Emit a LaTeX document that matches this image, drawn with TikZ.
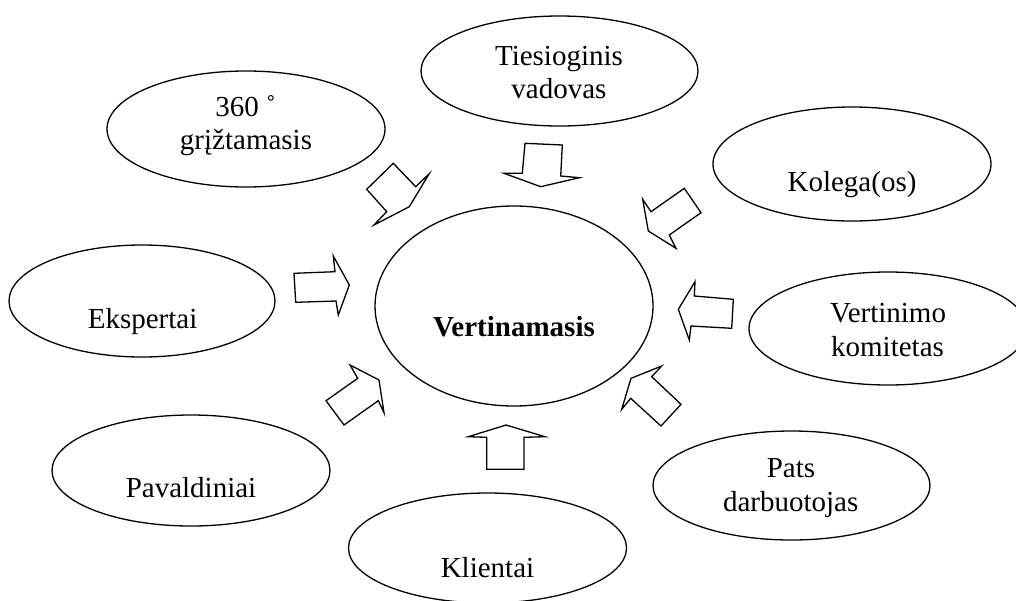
\documentclass[tikz,border=0pt]{standalone}
\usepackage{fontspec}
\setmainfont{Liberation Serif}
\usetikzlibrary{shapes.geometric}
\begin{document}
\begin{tikzpicture}[x=1pt,y=-1pt,
  oval/.style={ellipse,draw,line width=1.3pt,inner sep=0pt},
  txt/.style={anchor=base,inner sep=0pt,font=\fontsize{29}{33}\selectfont},
  blockarrow/.style={draw,fill=white,line width=1.3pt,line join=miter}]
\useasboundingbox (0,0) rectangle (1016,600);
% ellipses
\node[oval,minimum width=278pt,minimum height=200pt] (c) at (514,306) {};
\node[oval,minimum width=277pt,minimum height=110pt] (e1) at (559.5,71) {};
\node[oval,minimum width=278pt,minimum height=116pt] (e2) at (246,129) {};
\node[oval,minimum width=278pt,minimum height=114pt] (e3) at (852,164) {};
\node[oval,minimum width=266pt,minimum height=112pt] (e4) at (142,301) {};
\node[oval,minimum width=278pt,minimum height=113pt] (e5) at (888,328.5) {};
\node[oval,minimum width=278pt,minimum height=111pt] (e6) at (191,470.5) {};
\node[oval,minimum width=278pt,minimum height=110pt] (e7) at (487.5,548) {};
\node[oval,minimum width=277pt,minimum height=109pt] (e8) at (791.5,485.5) {};
% texts
\node[txt] (tc) at (514,336.8) {\bfseries Vertinamasis};
\node[txt] (t1a) at (559,65) {Tiesioginis};
\node[txt] (t1b) at (559,98.7) {vadovas};
\node[txt] (t2a) at (245.5,116.7) {360 ˚};
\node[txt] (t2b) at (246,149) {grįžtamasis};
\node[txt] (t3) at (852,191.5) {Kolega(os)};
\node[txt] (t4) at (142.6,328) {Ekspertai};
\node[txt] (t5a) at (888,322.6) {Vertinimo};
\node[txt] (t5b) at (887.5,356) {komitetas};
\node[txt] (t6) at (191,497.5) {Pavaldiniai};
\node[txt] (t7) at (487.5,577) {Klientai};
\node[txt] (t8a) at (791,477.6) {Pats};
\node[txt] (t8b) at (790.7,511) {darbuotojas};
% block arrows
\draw[blockarrow] (525,143.3) -- (562.3,145) -- (560.7,176) -- (579.3,177.7) -- (540.7,186.7) -- (504,173.3) -- (522.3,173.3) -- cycle;
\draw[blockarrow] (506,425) -- (545,436.7) -- (524,437.3) -- (524,469.3) -- (486.7,469.3) -- (486.7,437.3) -- (468.3,436.7) -- cycle;
\draw[blockarrow] (294,273.3) -- (335,271.7) -- (333.3,256) -- (349.3,285) -- (338.3,315) -- (336,301) -- (295.7,302.3) -- cycle;
\draw[blockarrow] (733.3,299.3) -- (694.3,296) -- (695,281.7) -- (678.3,309.3) -- (689.3,340) -- (691,326) -- (731.7,328.3) -- cycle;
\draw[blockarrow] (393.3,163.3) -- (415.7,186.7) -- (429,174) -- (409.3,206.7) -- (374,225) -- (386.7,211.7) -- (366.7,189.3) -- cycle;
\draw[blockarrow] (684.3,188.3) -- (701,212.7) -- (669.3,235) -- (676,248.3) -- (648.3,231) -- (642.7,199.3) -- (651,211.7) -- cycle;
\draw[blockarrow] (350,365) -- (379,380) -- (384,412.7) -- (378.3,400.7) -- (344,425) -- (326,400.7) -- (357.7,378.3) -- cycle;
\draw[blockarrow] (661.7,366) -- (651.7,376.7) -- (681,404.3) -- (661,426) -- (630.7,398.3) -- (621.7,409.3) -- (631,378.3) -- cycle;
\end{tikzpicture}
\end{document}
